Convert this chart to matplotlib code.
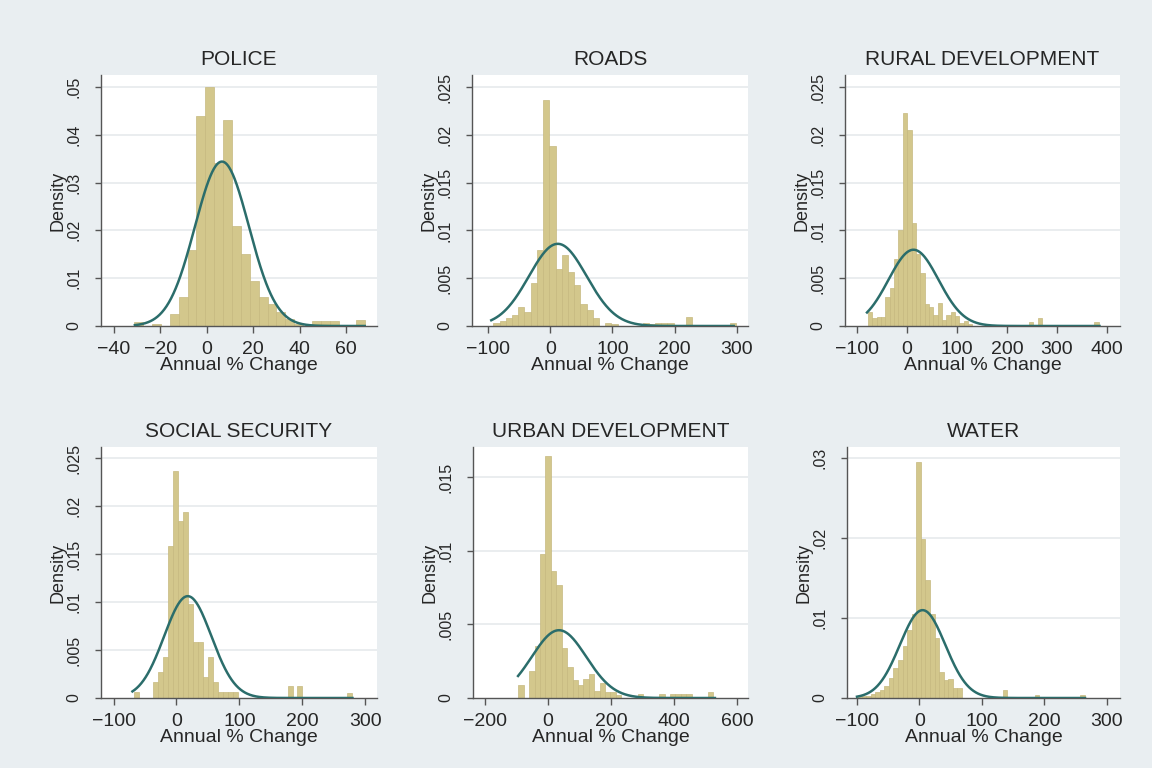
import numpy as np
import matplotlib
matplotlib.use("Agg")
import matplotlib.pyplot as plt
from matplotlib.ticker import FixedLocator, FuncFormatter

plt.rcParams['font.family'] = ['Liberation Sans', 'DejaVu Sans']

# ---------------- data ----------------
titles = ["POLICE", "ROADS", "RURAL DEVELOPMENT",
          "SOCIAL SECURITY", "URBAN DEVELOPMENT", "WATER"]

# histogram bins: first edge, bin width, bar heights (density)
police_start, police_width = -31.3, 3.83
police_heights = [0.0008, 0, 0.0005, 0, 0.0025, 0.006, 0.016, 0.044, 0.050, 0.034,
                  0.043, 0.021, 0.015, 0.0095, 0.006, 0.0045, 0.003, 0.0015, 0.0005, 0,
                  0.001, 0.001, 0.001, 0, 0, 0.0013]

roads_start, roads_width = -91.6, 10.0
roads_heights = [0.0003, 0.0005, 0.0008, 0.0012, 0.002, 0.0015, 0.0045, 0.008, 0.0236, 0.0188,
                 0.006, 0.0074, 0.0057, 0.0043, 0.0023, 0.0017, 0.0008, 0, 0.0003, 0.0002,
                 0, 0, 0, 0, 0.0003, 0.0002, 0.0003, 0.0003, 0.0003, 0,
                 0, 0.0009, 0, 0, 0, 0, 0, 0, 0.0003]

rural_start, rural_width = -78.0, 8.7
rural_heights = [0.0015, 0.0008, 0.0009, 0.0009, 0.003, 0.004, 0.007, 0.010, 0.0223, 0.0205,
                 0.0108, 0.0075, 0.0055, 0.0023, 0.002, 0.0012, 0.0024, 0.0006, 0.0012, 0.0015,
                 0.001, 0.0003, 0.0005, 0.0002, 0, 0, 0, 0, 0, 0,
                 0, 0, 0, 0, 0, 0, 0, 0.0004, 0, 0.0008,
                 0, 0, 0, 0, 0, 0, 0, 0, 0, 0,
                 0, 0, 0.0004]

social_start, social_width = -68.2, 7.9
social_heights = [0.0006, 0, 0, 0, 0.0017, 0.0027, 0.0043, 0.0158, 0.0236, 0.0184,
                  0.0194, 0.0098, 0.0058, 0.0058, 0.0022, 0.0043, 0.0017, 0.0006, 0.0006, 0.0006,
                  0.0006, 0, 0, 0, 0, 0, 0, 0, 0, 0,
                  0, 0.0012, 0, 0.0012, 0, 0, 0, 0, 0, 0,
                  0, 0, 0, 0.0005]

urban_start, urban_width = -94.0, 17.2
urban_heights = [0.0009, 0, 0.0018, 0.0035, 0.0098, 0.0164, 0.0086, 0.0077, 0.0034, 0.0021,
                 0.0012, 0.0009, 0.0013, 0.0016, 0.0005, 0.001, 0.0004, 0.0004, 0.0002, 0,
                 0, 0, 0.0003, 0, 0, 0, 0.0003, 0, 0.0003, 0.0003,
                 0.0003, 0.0003, 0, 0, 0, 0.0004]

water_start, water_width = -100.0, 7.3
water_heights = [0.0003, 0.0002, 0.0003, 0.0005, 0.0008, 0.001, 0.0015, 0.0025, 0.0037, 0.0048,
                 0.0065, 0.0085, 0.0105, 0.0295, 0.0199, 0.0148, 0.0105, 0.0075, 0.0032, 0.0022,
                 0.0024, 0.0012, 0.0012, 0, 0, 0, 0, 0, 0, 0,
                 0, 0, 0.001, 0, 0, 0, 0, 0, 0, 0.0004,
                 0, 0, 0, 0, 0, 0, 0, 0, 0, 0.0004]

# fitted normal curves: mean, sd, drawn over data range
normal_mean = [6.5, 12.0, 13.0, 18.0, 35.0, 5.0]
normal_sd = [11.6, 46.4, 50.0, 37.6, 86.7, 36.3]
data_min = [-31.0, -95.0, -80.0, -70.0, -95.0, -100.0]
data_max = [68.0, 295.0, 385.0, 280.0, 530.0, 265.0]

xticks = [[-40, -20, 0, 20, 40, 60],
          [-100, 0, 100, 200, 300],
          [-100, 0, 100, 200, 300, 400],
          [-100, 0, 100, 200, 300],
          [-200, 0, 200, 400, 600],
          [-100, 0, 100, 200, 300]]
yticks = [[0, 0.01, 0.02, 0.03, 0.04, 0.05],
          [0, 0.005, 0.01, 0.015, 0.02, 0.025],
          [0, 0.005, 0.01, 0.015, 0.02, 0.025],
          [0, 0.005, 0.01, 0.015, 0.02, 0.025],
          [0, 0.005, 0.01, 0.015],
          [0, 0.01, 0.02, 0.03]]

starts = [police_start, roads_start, rural_start, social_start, urban_start, water_start]
widths = [police_width, roads_width, rural_width, social_width, urban_width, water_width]
heights = [police_heights, roads_heights, rural_heights, social_heights, urban_heights, water_heights]

# ---------------- layout ----------------
W, H = 1152, 768
BG = '#e9eef1'
BAR = '#d3c78c'
BAR_EDGE = '#c6b97f'
LINE = '#2b6d6b'
AXC = '#555555'
TXT = '#262626'

# pixel boxes: left, right, top, bottom
boxes = [(101, 377, 75, 326), (472, 748, 75, 326), (845, 1120, 75, 326),
         (101, 377, 447, 698), (473, 748, 447, 698), (847, 1120, 447, 698)]
xlims = [(-45.6, 73.3), (-126, 318), (-124, 426), (-120, 319), (-238, 635), (-116, 321)]
ytops = [0.0525, 0.02626, 0.02626, 0.02615, 0.01704, 0.0314]

fig = plt.figure(figsize=(W / 100, H / 100), dpi=100, facecolor=BG)


def fmt(v, pos=None):
    if abs(v) < 1e-12:
        return "0"
    s = ("%.3f" % v).rstrip('0')
    return s.replace("0.", ".", 1)


for i in range(6):
    l, r, t, b = boxes[i]
    ax = fig.add_axes([l / W, 1 - b / H, (r - l) / W, (b - t) / H])
    ax.set_facecolor('white')
    edges = starts[i] + widths[i] * np.arange(len(heights[i]))
    ax.bar(edges, heights[i], width=widths[i], align='edge', color=BAR,
           edgecolor=BAR_EDGE, linewidth=0.5, zorder=2)
    xs = np.linspace(data_min[i], data_max[i], 400)
    ys = np.exp(-0.5 * ((xs - normal_mean[i]) / normal_sd[i]) ** 2) / (normal_sd[i] * np.sqrt(2 * np.pi))
    ax.plot(xs, ys, color=LINE, lw=1.8, zorder=3)

    ax.set_xlim(*xlims[i])
    ax.set_ylim(0, ytops[i])
    ax.xaxis.set_major_locator(FixedLocator(xticks[i]))
    ax.yaxis.set_major_locator(FixedLocator(yticks[i]))
    ax.yaxis.set_major_formatter(FuncFormatter(fmt))
    for yv in yticks[i][1:]:
        ax.axhline(yv, color='#e6eaec', lw=1.2, zorder=1)

    for s in ['top', 'right']:
        ax.spines[s].set_visible(False)
    for s in ['left', 'bottom']:
        ax.spines[s].set_color(AXC)
        ax.spines[s].set_linewidth(1.0)
    ax.tick_params(axis='x', direction='out', length=5, width=1, color=AXC,
                   labelsize=14, labelcolor=TXT, pad=6)
    ax.tick_params(axis='y', direction='out', length=4, width=1, color=AXC,
                   labelsize=11.5, labelcolor=TXT, pad=10)
    for lab in ax.get_yticklabels():
        lab.set_rotation(90)
        lab.set_va('center')
    ax.set_xlabel("Annual % Change", fontsize=14, color=TXT, labelpad=-1)
    ax.set_ylabel("Density", fontsize=13, color=TXT, labelpad=0)
    ax.set_title(titles[i], fontsize=15, color=TXT, pad=7)

fig.savefig("out.png", dpi=100, facecolor=BG)
